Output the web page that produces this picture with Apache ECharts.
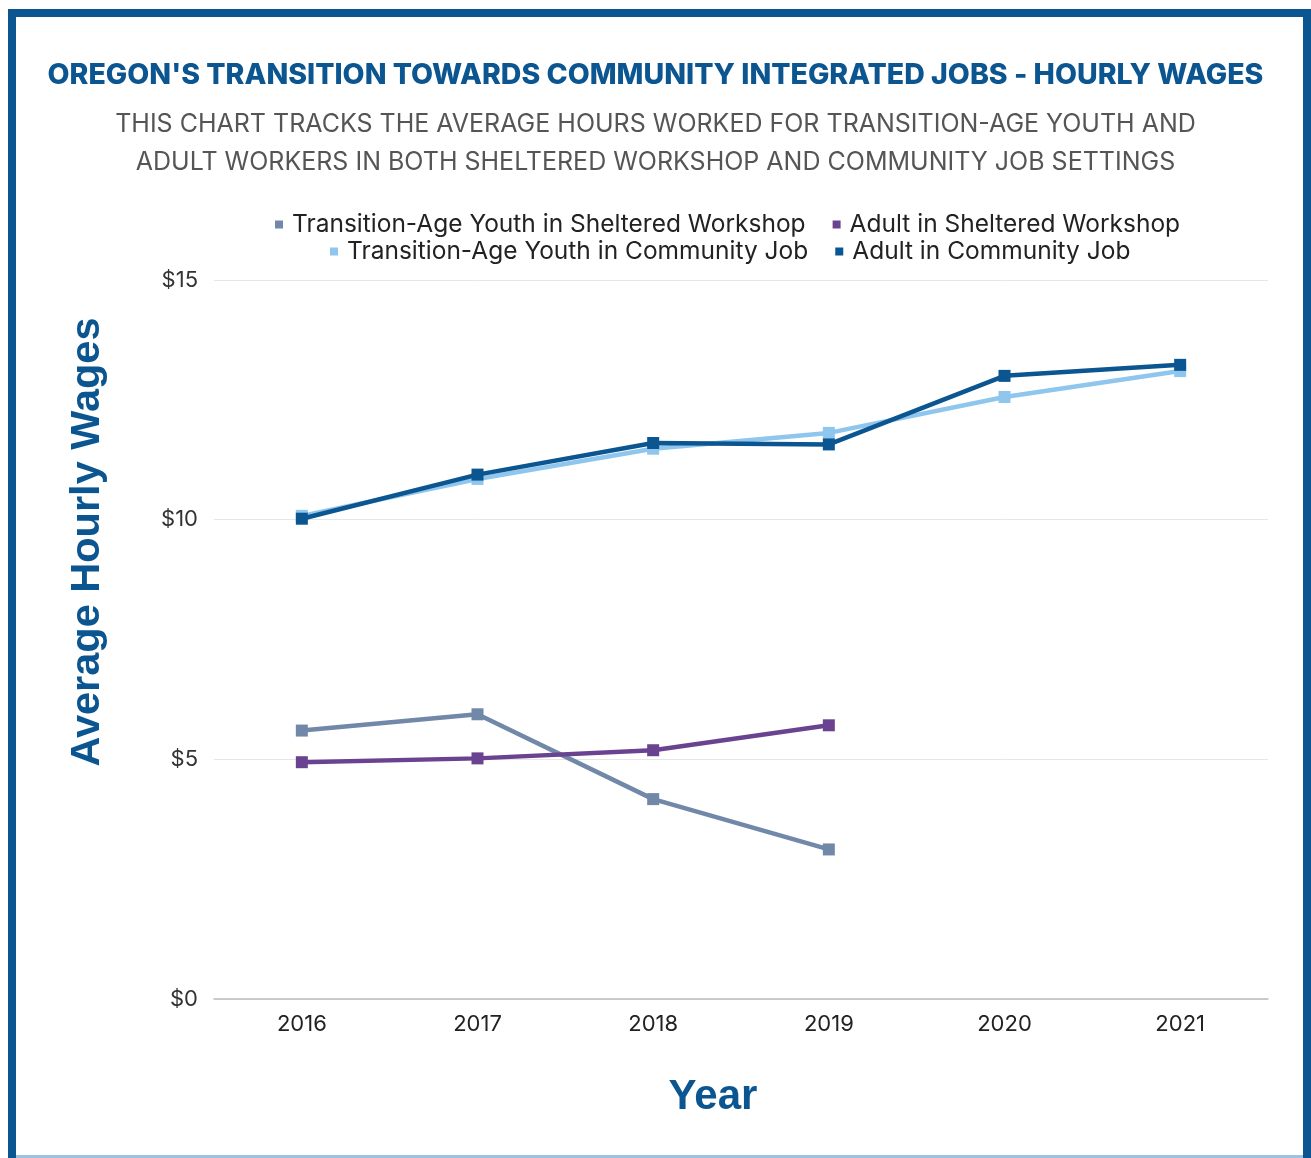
<!DOCTYPE html>
<html>
<head>
<meta charset="utf-8">
<script src="https://cdn.jsdelivr.net/npm/echarts@6/dist/echarts.min.js"></script>
<style>
html,body{margin:0;padding:0;background:#fff;}
#chart{width:1311px;height:1158px;}
</style>
</head>
<body>
<div id="chart"></div>
<script>
const years = ['2016','2017','2018','2019','2020','2021'];
const youthSheltered = [5.60, 5.94, 4.17, 3.12, null, null];
const adultSheltered = [4.94, 5.02, 5.19, 5.71, null, null];
const youthCommunity = [10.08, 10.85, 11.48, 11.81, 12.56, 13.10];
const adultCommunity = [10.02, 10.94, 11.60, 11.57, 13.00, 13.23];
const yTicks = [0, 5, 10, 15];

const names = [
  'Transition-Age Youth in Sheltered Workshop',
  'Adult in Sheltered Workshop',
  'Transition-Age Youth in Community Job',
  'Adult in Community Job'
];
const colors = ['#7188a8', '#6a4390', '#8fc6ee', '#0b5590'];
const dataSets = [youthSheltered, adultSheltered, youthCommunity, adultCommunity];
const DARK = '#0b5590';

const chart = echarts.init(document.getElementById('chart'), null, {renderer: 'canvas'});
const legendText = {fontFamily: 'Inter', fontSize: 24.5, color: '#222', padding: [0, 0, 0, 4]};
const subStyle = {fontFamily: 'Inter', fontWeight: 400, fontSize: 25, color: '#555'};

chart.setOption({
  backgroundColor: '#fff',
  animation: false,
  title: [{
    text: "OREGON'S TRANSITION TOWARDS COMMUNITY INTEGRATED JOBS - HOURLY WAGES",
    left: 'center', top: 56,
    textStyle: {fontFamily: 'Inter', fontWeight: 800, fontSize: 28.5, color: DARK}
  }, {
    text: 'THIS CHART TRACKS THE AVERAGE HOURS WORKED FOR TRANSITION-AGE YOUTH AND',
    left: 'center', top: 107,
    textStyle: subStyle
  }, {
    text: 'ADULT WORKERS IN BOTH SHELTERED WORKSHOP AND COMMUNITY JOB SETTINGS',
    left: 'center', top: 145,
    textStyle: subStyle
  }],
  legend: [{
    data: [names[0], names[1]],
    left: 275, top: 212, padding: 0,
    icon: 'rect', itemWidth: 8, itemHeight: 8, itemGap: 27,
    textStyle: legendText
  }, {
    data: [names[2], names[3]],
    left: 330, top: 239, padding: 0,
    icon: 'rect', itemWidth: 8, itemHeight: 8, itemGap: 27,
    textStyle: legendText
  }],
  grid: {left: 214, right: 43, top: 280, bottom: 159, containLabel: false},
  xAxis: {
    type: 'category',
    data: years,
    boundaryGap: true,
    axisLine: {show: true, lineStyle: {color: '#bdbdbd', width: 1.5}},
    axisTick: {show: false},
    axisLabel: {fontFamily: 'Inter', fontSize: 22, color: '#222', margin: 14},
    name: 'Year',
    nameLocation: 'middle',
    nameGap: 77,
    nameTextStyle: {fontFamily: 'Liberation Sans', fontWeight: 'bold', fontSize: 42, color: DARK, padding: [0, 56, 0, 0]}
  },
  yAxis: {
    type: 'value',
    min: 0, max: 15, interval: 5,
    axisLine: {show: false},
    axisTick: {show: false},
    splitLine: {lineStyle: {color: '#e6e6e6', width: 1}},
    axisLabel: {fontFamily: 'Inter', fontSize: 22, color: '#333', margin: 16,
      formatter: v => yTicks.includes(v) ? '$' + v : ''}
  },
  series: dataSets.map((d, i) => ({
    name: names[i],
    type: 'line',
    data: d,
    color: colors[i],
    symbol: 'rect',
    symbolSize: 12,
    showSymbol: true,
    connectNulls: false,
    lineStyle: {width: 4.5, color: colors[i]},
    itemStyle: {color: colors[i]},
    z: i === 3 ? 5 : (i === 2 ? 4 : 3)
  })),
  graphic: [{
    type: 'text',
    x: 88, y: 542,
    rotation: Math.PI / 2,
    style: {
      text: 'Average Hourly Wages',
      fontFamily: 'Liberation Sans', fontWeight: 'bold', fontSize: 41.5,
      fill: DARK, align: 'center', verticalAlign: 'middle'
    },
    silent: true
  }, {
    type: 'rect',
    shape: {x: 12, y: 13, width: 1295, height: 1170},
    style: {fill: 'none', stroke: DARK, lineWidth: 8},
    silent: true, z: 100
  }, {
    type: 'rect',
    shape: {x: 16, y: 1155, width: 1287, height: 3},
    style: {fill: '#9cc3e6'},
    silent: true, z: 100
  }]
});
</script>
</body>
</html>
